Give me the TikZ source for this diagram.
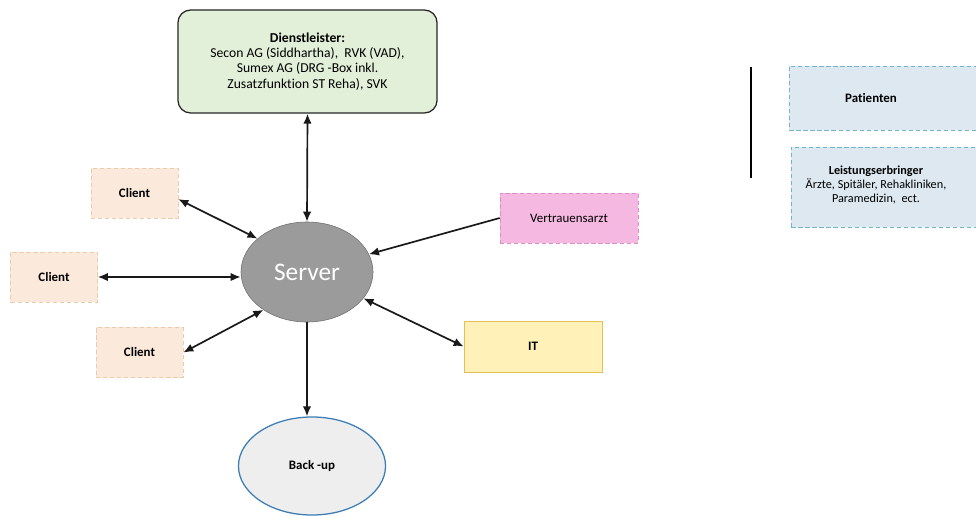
\documentclass[tikz,border=0pt]{standalone}
\usepackage{fontspec}
\setmainfont{Carlito}[Ligatures=NoCommon]
\usepackage{xcolor}
\definecolor{DlGreen}{HTML}{E2EFD9}
\definecolor{SrvGray}{HTML}{9B9B9B}
\definecolor{SrvEdge}{HTML}{6E6E6E}
\definecolor{ClBeige}{HTML}{FBEADB}
\definecolor{ClEdge}{HTML}{E9CBAE}
\definecolor{VaPink}{HTML}{F5B8E0}
\definecolor{VaEdge}{HTML}{DC8FC6}
\definecolor{ItYellow}{HTML}{FFF1B8}
\definecolor{ItEdge}{HTML}{E6BE5C}
\definecolor{BkGray}{HTML}{EEEEEE}
\definecolor{BkBlue}{HTML}{3C7DB5}
\definecolor{PtBlue}{HTML}{DDE8F0}
\definecolor{PtEdge}{HTML}{6FB5CC}
\usepackage{tikz}
\usetikzlibrary{arrows.meta,shapes.geometric}
\tikzset{
  dbox/.style={draw=black!85,fill=DlGreen,rounded corners=9pt,line width=0.9pt,align=center,font=\fontsize{9.7}{10.8}\selectfont,minimum width=6.475cm,minimum height=2.575cm},
  cbox/.style={draw=ClEdge,densely dashed,fill=ClBeige,font=\fontsize{9.2}{11}\selectfont\bfseries,minimum width=2.175cm,minimum height=1.25cm},
  vabox/.style={draw=VaEdge,densely dashed,fill=VaPink,font=\fontsize{9.2}{11}\selectfont,minimum width=3.45cm,minimum height=1.25cm},
  itbox/.style={draw=ItEdge,fill=ItYellow,font=\fontsize{9.2}{11}\selectfont\bfseries,minimum width=3.45cm,minimum height=1.275cm},
  pbox/.style={draw=PtEdge,densely dashed,fill=PtBlue,anchor=west,minimum width=4.9cm},
  ptext/.style={align=center,font=\fontsize{8.7}{10}\selectfont},
  srv/.style={ellipse,draw=SrvEdge,fill=SrvGray,text=white,font=\fontsize{18}{21}\selectfont,minimum width=3.3cm,minimum height=2.5cm,inner sep=0pt},
  bkp/.style={ellipse,draw=BkBlue,line width=0.9pt,fill=BkGray,font=\fontsize{9.2}{11}\selectfont\bfseries,minimum width=3.675cm,minimum height=2.45cm,inner sep=0pt},
  biflow/.style={{Latex[length=2.5mm,width=2.1mm]}-{Latex[length=2.5mm,width=2.1mm]},line width=1.2pt,black!90},
  flow/.style={-{Latex[length=2.5mm,width=2.1mm]},line width=1.2pt,black!90}
}
\begin{document}
\begin{tikzpicture}[x=0.025cm,y=-0.025cm]
  \useasboundingbox[fill=white] (0,0) rectangle (976,515);
  \node[dbox] (dienst) at (307.5,61.5) {\textbf{Dienstleister:}\\Secon AG (Siddhartha),\ \ RVK (VAD),\\Sumex AG (DRG -Box inkl.\\Zusatzfunktion ST Reha), SVK};
  \node[srv] (server) at (307,272) {Server};
  \node[cbox] (client1) at (134.5,193) {Client};
  \node[cbox] (client2) at (54,277) {Client};
  \node[cbox] (client3) at (139.5,352.5) {Client};
  \node[vabox] (vertrauen) at (569,218) {Vertrauensarzt};
  \node[itbox] (it) at (533,346.5) {IT};
  \node[bkp] (backup) at (312,466) {Back -up};
  \coordinate (septop) at (751,67);
  \coordinate (sepbot) at (751,178);
  \draw[line width=1.8pt] (septop) -- (sepbot);
  \node[pbox,minimum height=1.6cm] (patienten) at (789,98) {};
  \node[ptext,font=\fontsize{9.2}{11}\selectfont\bfseries] (patienten-txt) at (871,98) {Patienten};
  \node[pbox,minimum height=2cm] (leistung) at (791,187) {};
  \node[ptext] (leistung-txt) at (876,185) {\textbf{Leistungserbringer}\\Ärzte, Spitäler, Rehakliniken,\\Paramedizin,\ \ ect.};
  \draw[biflow] (dienst.south) -- (server.north);
  \draw[biflow] (client1.-8) -- (server.146);
  \draw[biflow] (client2.east) -- (client2.east -| server.west);
  \draw[biflow] (client3.east) -- (server.221);
  \draw[flow] (vertrauen.west) -- (server.16);
  \draw[biflow] (server.335) -- (it.west);
  \draw[flow] (server.south) -- (server.south |- backup.north);
\end{tikzpicture}
\end{document}
